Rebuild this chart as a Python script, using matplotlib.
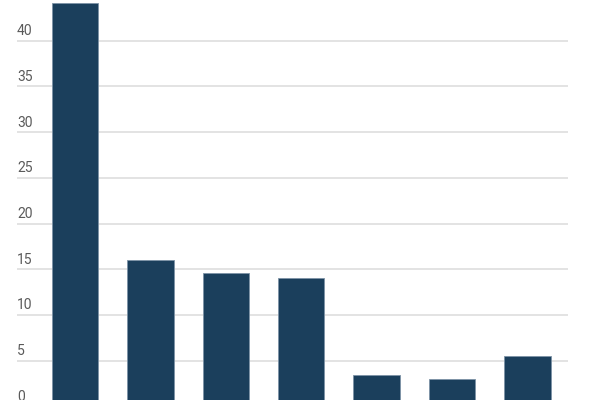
import matplotlib
matplotlib.use("Agg")
import matplotlib.pyplot as plt
import numpy as np

categorias = ["A", "B", "C", "D", "E", "F", "G"]
valores = [44.1, 16.0, 14.55, 14.0, 3.4, 3.0, 5.5]
ticks_y = [0, 5, 10, 15, 20, 25, 30, 35, 40]

plt.rcParams["font.family"] = ["Roboto", "DejaVu Sans"]

fig = plt.figure(figsize=(6, 4), dpi=100)
# el eje y=0 queda un poco por debajo del borde inferior de la figura
ax = fig.add_axes([17 / 600, -6.4 / 400, 551 / 600, 406.4 / 400])

x = np.arange(len(categorias))
ax.bar(x, valores, width=0.617, color="#1b3f5c", edgecolor="#7d93a6",
       linewidth=0.6, zorder=3)

ax.set_xlim(-0.77, 6.54)
ax.set_ylim(0, 44.46)

for t in ticks_y:
    ax.axhline(t, color="#dedede", linewidth=1.2, zorder=1)
    ax.annotate(str(t), xy=(0, t), xycoords=("axes fraction", "data"),
                xytext=(0, 1.8), textcoords="offset points",
                ha="left", va="bottom", fontsize=10, color="#5a5a5a")

ax.set_xticks([])
ax.set_yticks([])
for s in ax.spines.values():
    s.set_visible(False)

fig.savefig("out.png", dpi=100)
